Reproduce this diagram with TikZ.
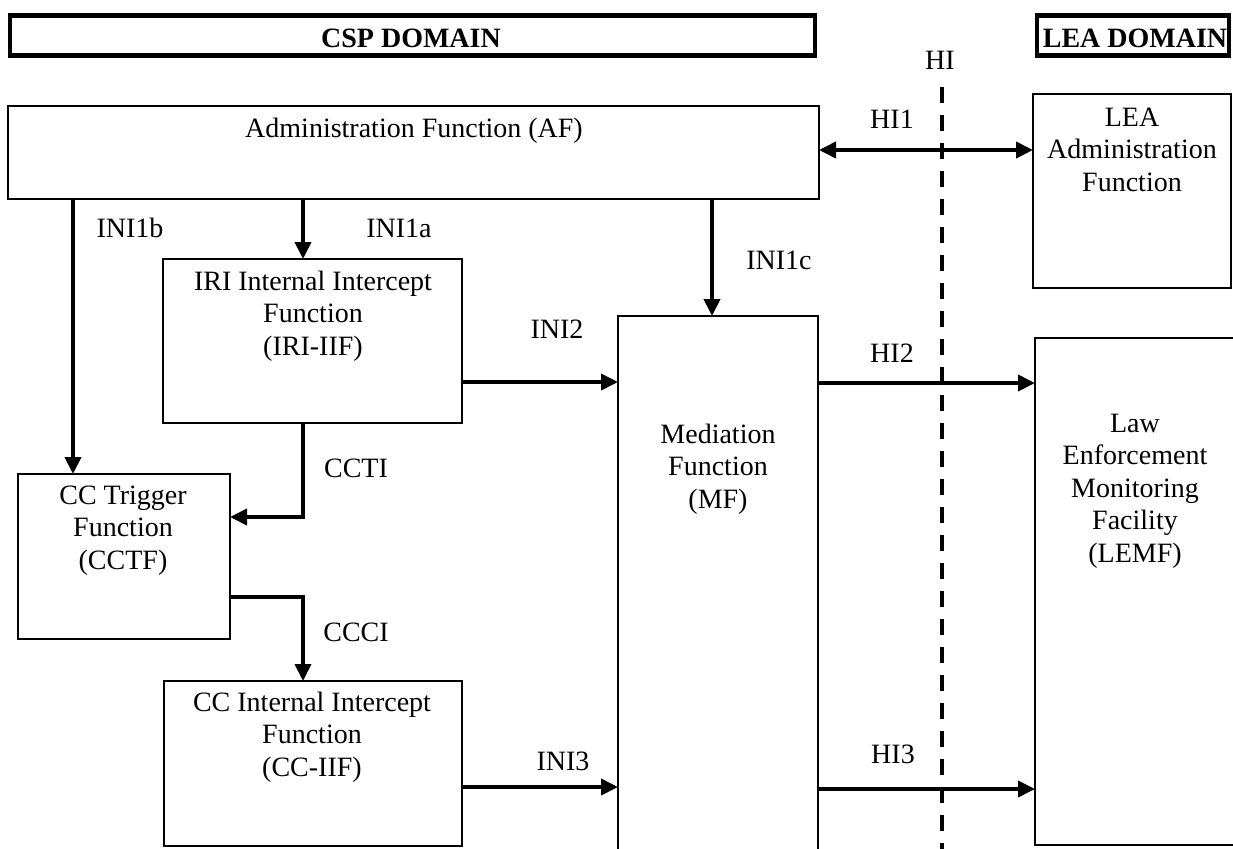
\documentclass[tikz,border=0pt]{standalone}
\usepackage{fontspec}
\setmainfont{Liberation Serif}
\usetikzlibrary{arrows.meta}
\newcommand\fs{\fontsize{14pt}{16.25pt}\selectfont}
\newcommand\mlines[1]{\begin{tabular}[t]{@{}c@{}}#1\end{tabular}}
\begin{document}
\begin{tikzpicture}[x=0.5pt,y=-0.5pt,
  box/.style={draw, line width=1pt, inner sep=0pt, outer sep=0pt},
  bigbox/.style={box, line width=1.3pt},
  dombox/.style={draw, line width=2.2pt, inner sep=0pt, outer sep=0pt},
  arr/.style={line width=1.9pt, -{Triangle[length=8.5pt,width=8pt]}},
  darr/.style={line width=1.9pt, {Triangle[length=8.5pt,width=8pt]}-{Triangle[length=8.5pt,width=8pt]}},
  lbl/.style={anchor=base, inner sep=0pt, font=\fs},
  hidash/.style={line width=2pt, dash pattern=on 8pt off 6pt},
]
\useasboundingbox (0,0) rectangle (1233,848);
\clip (0,0) rectangle (1233,848);

% domain headers
\node[dombox, minimum width=402.5pt, minimum height=20pt] (csp) at (412.5,35.5) {};
\node[dombox, minimum width=96pt, minimum height=20pt] (leadom) at (1133,35.5) {};
\node[lbl, font=\fs\bfseries] (csptxt) at (411,47) {CSP DOMAIN};
\node[lbl, font=\fs\bfseries] (leatxt) at (1135,47) {LEA DOMAIN};

% boxes
\node[bigbox, minimum width=405.5pt, minimum height=46.5pt] (af) at (413.5,152.5) {};
\node[box, minimum width=149.5pt, minimum height=82pt] (iri) at (312.5,341) {};
\node[box, minimum width=106pt, minimum height=82.5pt] (cctf) at (124,556.5) {};
\node[box, minimum width=149pt, minimum height=82.5pt] (ccif) at (313,763.5) {};
\node[bigbox, minimum width=100pt, minimum height=282pt] (mf) at (718,598) {};
\node[box, minimum width=99pt, minimum height=97pt] (leaadm) at (1132,191) {};
\node[box, minimum width=107.5pt, minimum height=253.5pt] (lemf) at (1142.5,591.5) {};

% box texts
\node[lbl] (aftxt) at (414,137) {Administration Function (AF)};
\node[lbl] (iritxt) at (313,290) {\mlines{IRI Internal Intercept\\Function\\(IRI-IIF)}};
\node[lbl] (cctftxt) at (123,504) {\mlines{CC Trigger\\Function\\(CCTF)}};
\node[lbl] (cciftxt) at (312,711) {\mlines{CC Internal Intercept\\Function\\(CC-IIF)}};
\node[lbl] (mftxt) at (718,443) {\mlines{Mediation\\Function\\(MF)}};
\node[lbl] (leaadmtxt) at (1132,126) {\mlines{LEA\\Administration\\Function}};
\node[lbl] (lemftxt) at (1135,432) {\mlines{Law\\Enforcement\\Monitoring\\Facility\\(LEMF)}};

% HI dashed line
\coordinate (hitop) at (942,87);
\coordinate (hibot) at (942,860);
\draw[hidash] (hitop) -- (hibot);
\node[lbl] (hi) at (940,69) {HI};

% connector anchors
\coordinate (kb) at (73,0);
\coordinate (ka) at (303,0);
\coordinate (kc) at (712,0);
\coordinate (k1) at (0,150);
\coordinate (k2) at (0,382);
\coordinate (k3) at (0,383);
\coordinate (k4) at (0,787);
\coordinate (k5) at (0,789);
\coordinate (ct) at (303,517);
\coordinate (cc) at (303,597);

% connectors
\draw[arr] (af.south -| kb) -- (cctf.north -| kb);
\draw[arr] (af.south -| ka) -- (iri.north -| ka);
\draw[arr] (af.south -| kc) -- (mf.north -| kc);
\draw[darr] (af.east |- k1) -- (leaadm.west |- k1);
\draw[arr] (iri.east |- k2) -- (mf.west |- k2);
\draw[arr] (mf.east |- k3) -- (lemf.west |- k3);
\draw[arr] (ccif.east |- k4) -- (mf.west |- k4);
\draw[arr] (mf.east |- k5) -- (lemf.west |- k5);
\draw[arr] (iri.south -| ct) |- (cctf.east |- ct);
\draw[arr] (cctf.east |- cc) -| (ccif.north -| cc);

% connector labels
\node[lbl] (l1b) at (130,237) {INI1b};
\node[lbl] (l1a) at (399,237) {INI1a};
\node[lbl] (l1c) at (779,269) {INI1c};
\node[lbl] (lhi1) at (892,128) {HI1};
\node[lbl] (lini2) at (557,338) {INI2};
\node[lbl] (lhi2) at (892,362) {HI2};
\node[lbl] (lccti) at (356,477) {CCTI};
\node[lbl] (lccci) at (356,641) {CCCI};
\node[lbl] (lini3) at (563,770) {INI3};
\node[lbl] (lhi3) at (893,763) {HI3};
\end{tikzpicture}
\end{document}
